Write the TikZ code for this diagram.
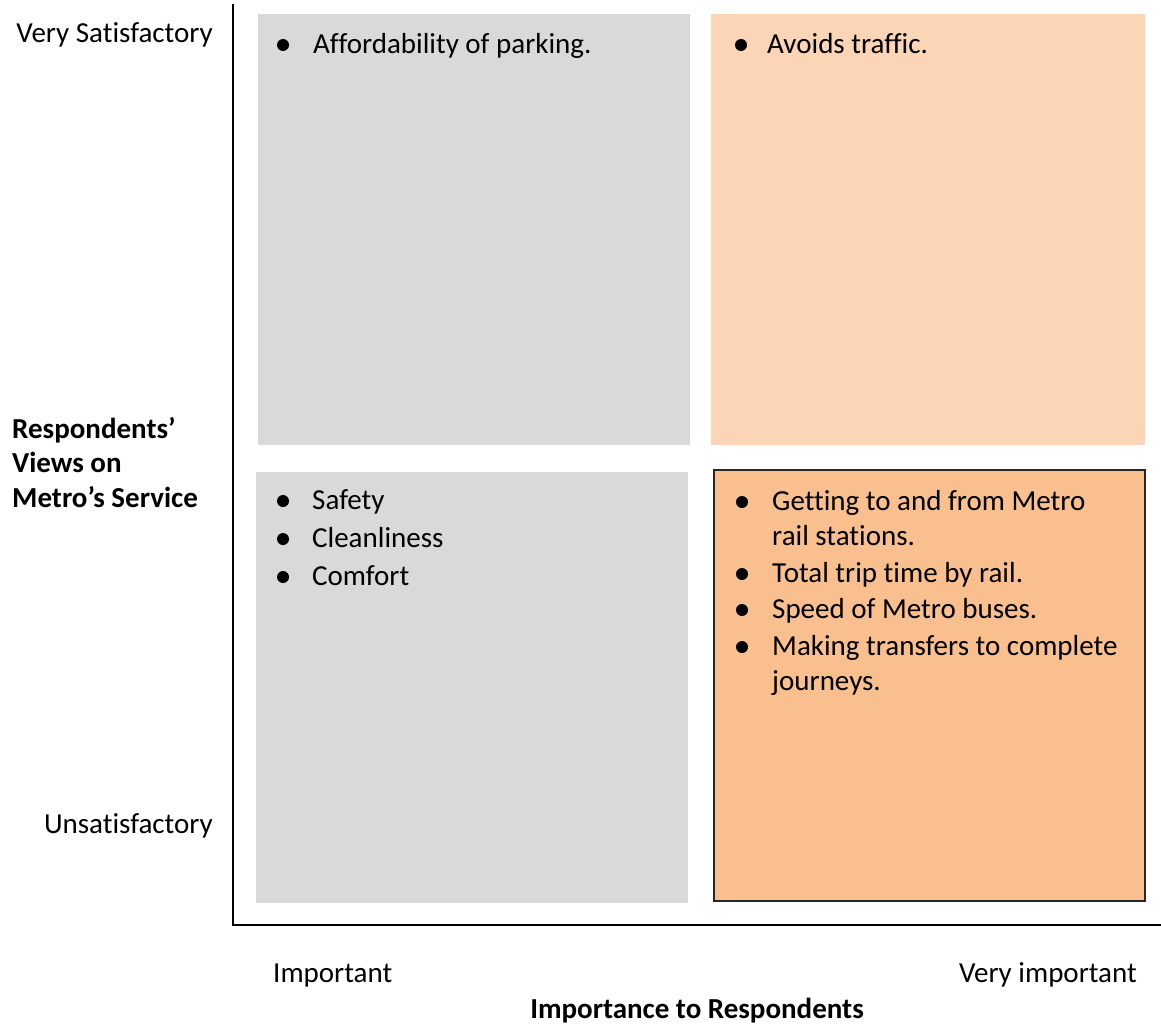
\documentclass[tikz,border=0pt]{standalone}
\usepackage{fontspec}
\setmainfont{Carlito}[Ligatures={NoCommon,NoRequired,NoContextual}, RawFeature={-liga;-clig;-calt;-dlig;-rlig}]
\definecolor{greybox}{HTML}{D9D9D9}
\definecolor{peachlight}{HTML}{FBD5B5}
\definecolor{peachdark}{HTML}{F9BF8F}
\tikzset{
  txt/.style={inner sep=0pt, font=\fontsize{29}{35}\selectfont},
  btxt/.style={inner sep=0pt, font=\fontsize{29}{35}\selectfont\bfseries},
  bul/.style={circle, fill=black, inner sep=0pt, minimum size=12pt},
  axisline/.style={line width=2.6pt, black},
}
\begin{document}
\begin{tikzpicture}[x=1pt,y=-1pt]
\useasboundingbox (0,0) rectangle (1161,1033);
% quadrants
\fill[greybox] (258,14) rectangle (690,445);
\fill[peachlight] (711,14) rectangle (1145,445);
\fill[greybox] (256,472) rectangle (688,903);
\draw[fill=peachdark, draw=black!85, line width=2pt] (714,470) rectangle (1145,901);
% axes
\coordinate (ytop) at (233,5);
\coordinate (origin) at (233,925);
\coordinate (xend) at (1161,925);
\draw[axisline, line cap=rect] (ytop) -- (origin) -- (xend);
% top-left
\node[bul] (b1) at (283,45) {};
\node[txt, anchor=base west] (t1) at (313,53) {Affordability of parking.};
% top-right
\node[bul] (b2) at (741,45) {};
\node[txt, anchor=base west] (t2) at (767,53) {Avoids traffic.};
% bottom-left
\node[bul] (b3) at (283,501) {};
\node[txt, anchor=base west] (t3) at (312,509) {Safety};
\node[bul] (b4) at (283,539) {};
\node[txt, anchor=base west] (t4) at (312,547) {Cleanliness};
\node[bul] (b5) at (283,577) {};
\node[txt, anchor=base west] (t5) at (312,585) {Comfort};
% bottom-right
\node[bul] (b6) at (742,502) {};
\node[txt, anchor=base west] (t6a) at (772,510) {Getting to and from Metro};
\node[txt, anchor=base west] (t6b) at (772,545) {rail stations.};
\node[bul] (b7) at (742,574) {};
\node[txt, anchor=base west] (t7) at (772,582) {Total trip time by rail.};
\node[bul] (b8) at (742,610) {};
\node[txt, anchor=base west] (t8) at (772,618) {Speed of Metro buses.};
\node[bul] (b9) at (742,647) {};
\node[txt, anchor=base west] (t9a) at (772,655) {Making transfers to complete};
\node[txt, anchor=base west] (t9b) at (772,690) {journeys.};
% axis labels
\node[txt, anchor=base east] (vs) at (213,42) {Very Satisfactory};
\node[txt, anchor=base east] (us) at (213,833) {Unsatisfactory};
\node[btxt, anchor=base west] (r1) at (12,438) {Respondents’};
\node[btxt, anchor=base west] (r2) at (12,472) {Views on};
\node[btxt, anchor=base west] (r3) at (12,507) {Metro’s Service};
\node[txt, anchor=base west] (imp) at (273,982) {Important};
\node[txt, anchor=base east] (vimp) at (1137,982) {Very important};
\node[btxt, anchor=base] (itr) at (697,1018) {Importance to Respondents};
\end{tikzpicture}
\end{document}
